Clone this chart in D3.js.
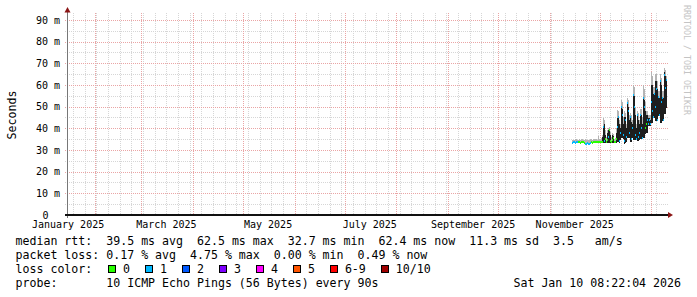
<!DOCTYPE html>
<html>
<head>
<meta charset="utf-8">
<script src="https://cdn.jsdelivr.net/npm/d3@7"></script>
<style>
  body { margin: 0; background: #fff; }
  svg { display: block; }
  text { font-family: "DejaVu Sans Mono", monospace; fill: #000; }
</style>
</head>
<body>
<svg id="graph" width="697" height="297"></svg>
<script>
// ---- data (one sample per rrd row, 0.6 day steps from Nov 14 2025) ----
var graphStart = new Date(2025, 0, 15, 8, 22, 4);
var graphEnd = new Date(2026, 0, 10, 8, 22, 4);
var firstSample = new Date(2025, 10, 14, 8, 22, 4);
var stepSeconds = 51840;

var median = [
  33.4, 33.5, 33.6, 33.4, 33.5, 33.5, 33.5, 33.6, 33.4, 33.5,
  33.7, 33.5, 33.4, 32.9, 32.8, 33.0, 32.6, 32.9, 33.2, 33.5,
  33.4, 33.6, 33.5, 33.5, 33.7, 33.5, 33.5, 33.5, 33.6, 33.5,
  33.5, 40.7, 34.0, 35.0, 33.5, 34.5, 36.0, 39.0, 34.0, 33.8,
  34.5, 35.5, 33.5, 33.7, 35.0, 40.7, 45.0, 34.0, 38.0, 50.0,
  46.0, 37.0, 34.0, 44.0, 36.0, 51.5, 48.0, 38.0, 45.0, 35.0,
  40.0, 55.4, 50.0, 37.0, 35.0, 46.0, 36.0, 38.0, 46.0, 40.0,
  35.5, 53.8, 50.0, 40.0, 42.0, 44.0, 42.0, 44.0, 42.0, 52.0,
  48.0, 45.4, 56.0, 50.0, 58.0, 43.8, 54.6, 46.0, 62.0, 52.0,
  54.0, 43.8, 64.6, 58.6, 62.4
];
var coreLow = [
  33.4, 33.5, 33.6, 33.4, 33.5, 33.5, 33.5, 33.6, 33.4, 33.5,
  33.7, 33.5, 33.4, 32.9, 32.8, 33.0, 32.6, 32.9, 33.2, 33.5,
  33.4, 33.6, 33.5, 33.5, 33.7, 33.5, 33.5, 33.5, 33.6, 33.5,
  33.5, 33.5, 33.5, 33.5, 33.5, 33.5, 33.5, 33.5, 33.5, 33.8,
  33.5, 33.5, 33.5, 33.7, 33.5, 34.0, 34.0, 33.8, 35.0, 36.0,
  36.0, 35.5, 33.0, 33.5, 34.0, 36.0, 36.0, 36.0, 34.0, 34.0,
  36.0, 35.0, 35.0, 35.0, 35.0, 34.5, 34.5, 35.0, 35.5, 35.5,
  35.5, 36.0, 36.0, 38.0, 38.4, 38.4, 41.5, 41.5, 41.5, 43.0,
  43.0, 45.4, 45.4, 43.8, 43.8, 43.8, 46.0, 46.0, 43.0, 43.0,
  43.8, 43.8, 47.0, 47.0, 50.0
];
var coreHigh = [
  33.4, 33.5, 33.6, 33.4, 33.5, 33.5, 33.5, 33.6, 33.4, 33.5,
  33.7, 33.5, 33.4, 32.9, 32.8, 33.0, 32.6, 32.9, 33.2, 33.5,
  33.4, 33.6, 33.5, 33.5, 33.7, 33.5, 33.5, 33.5, 33.6, 33.5,
  36.0, 40.7, 42.0, 37.0, 33.5, 37.8, 39.0, 39.2, 37.0, 33.8,
  36.9, 36.5, 33.5, 33.7, 38.0, 44.7, 45.4, 42.0, 40.0, 50.0,
  49.0, 42.0, 45.4, 45.0, 40.0, 51.5, 50.0, 44.0, 45.0, 43.0,
  42.0, 55.4, 55.0, 46.0, 40.0, 46.0, 44.0, 42.0, 46.0, 46.0,
  42.0, 53.8, 53.0, 48.0, 46.0, 46.0, 44.7, 44.7, 44.0, 60.0,
  60.0, 56.0, 56.0, 62.0, 62.0, 58.0, 54.6, 54.0, 62.3, 60.0,
  54.0, 54.0, 66.0, 64.0, 62.4
];
var smokeHigh = [
  34.6, 34.8, 34.5, 34.9, 35.0, 34.6, 34.8, 35.2, 34.7, 34.9,
  35.1, 34.8, 34.6, 34.9, 34.5, 34.8, 34.4, 34.7, 35.0, 35.2,
  34.8, 35.0, 34.9, 35.3, 35.1, 34.8, 36.5, 35.0, 35.0, 35.5,
  37.0, 44.7, 44.0, 39.0, 36.0, 39.0, 40.0, 40.5, 38.5, 36.0,
  38.0, 37.5, 35.0, 35.5, 40.0, 48.5, 48.0, 44.0, 42.0, 53.0,
  52.0, 45.0, 48.0, 47.0, 42.0, 53.8, 53.0, 46.0, 47.0, 46.0,
  44.0, 60.0, 59.0, 50.0, 42.0, 48.0, 47.0, 44.0, 49.0, 49.0,
  45.0, 60.0, 58.0, 52.0, 48.0, 48.0, 46.0, 46.0, 46.0, 66.0,
  64.0, 59.0, 59.0, 65.0, 65.0, 62.0, 57.0, 57.0, 65.0, 63.0,
  57.0, 57.0, 68.0, 67.0, 64.0
];
// index into lossLabels / lossColors
var lossLevel = [
  1, 1, 1, 1, 1, 1, 0, 0, 0, 0,
  0, 0, 0, 1, 1, 1, 1, 1, 1, 0,
  0, 0, 0, 0, 0, 0, 0, 0, 0, 0,
  0, 1, 1, 0, 0, 0, 1, 0, 0, 0,
  0, 0, 0, 0, 0, 1, 1, 1, 1, 1,
  1, 1, 1, 1, 1, 1, 1, 1, 1, 1,
  1, 1, 1, 1, 1, 1, 1, 1, 1, 1,
  1, 1, 1, 0, 0, 1, 1, 1, 1, 1,
  1, 1, 1, 1, 1, 1, 1, 1, 1, 1,
  1, 1, 1, 1, 1
];

var lossLabels = ["0", "1", "2", "3", "4", "5", "6-9", "10/10"];
var lossColors = ["#26ff00", "#00b8ff", "#0059ff", "#7e00ff", "#ff00ff", "#ff5500", "#ff0000", "#a00000"];
var yTicks = [10, 20, 30, 40, 50, 60, 70, 80, 90];
var yMinor = [5, 15, 25, 35, 45, 55, 65, 75, 85];
var yMax = 92.3;

var legendLines = [
  "median rtt:  39.5 ms avg  62.5 ms max  32.7 ms min  62.4 ms now  11.3 ms sd  3.5   am/s",
  "packet loss: 0.17 % avg  4.75 % max  0.00 % min  0.49 % now"
];
var probeText = "probe:       10 ICMP Echo Pings (56 Bytes) every 90s";
var stampText = "Sat Jan 10 08:22:04 2026";

// ---- layout ----
var margin = { left: 67, top: 15 },
  plotW = 600,
  plotH = 200;
var charW = 6.98;
var x0 = margin.left, y0 = margin.top;

var svg = d3.select("#graph");

var x = d3.scaleTime().domain([graphStart, graphEnd]).range([x0, x0 + plotW]);
var y = d3.scaleLinear().domain([0, yMax]).range([y0 + plotH, y0]);

function px(v) { return Math.round(v) + 0.5; }

var grid = svg.append("g").attr("shape-rendering", "crispEdges");

// minor grid: weeks / 5 ms
grid.selectAll(".vminor")
  .data(d3.timeSunday.range(graphStart, graphEnd))
  .enter().append("line")
  .attr("x1", d => px(x(d))).attr("x2", d => px(x(d)))
  .attr("y1", y0 - 2).attr("y2", y0 + plotH)
  .attr("stroke", "#d6d6d6").attr("stroke-dasharray", "1,1");

grid.selectAll(".hminor")
  .data(yMinor)
  .enter().append("line")
  .attr("x1", x0 - 2).attr("x2", x0 + plotW + 2)
  .attr("y1", d => px(y(d))).attr("y2", d => px(y(d)))
  .attr("stroke", "#d6d6d6").attr("stroke-dasharray", "1,1");

// major grid: months / 10 ms
grid.selectAll(".vmajor")
  .data(d3.timeMonth.range(graphStart, graphEnd))
  .enter().append("line")
  .attr("x1", d => px(x(d))).attr("x2", d => px(x(d)))
  .attr("y1", y0 - 2).attr("y2", y0 + plotH + 2)
  .attr("stroke", "#eaa5a5").attr("stroke-dasharray", "1,1");

grid.selectAll(".hmajor")
  .data(yTicks)
  .enter().append("line")
  .attr("x1", x0 - 2).attr("x2", x0 + plotW + 2)
  .attr("y1", d => px(y(d))).attr("y2", d => px(y(d)))
  .attr("stroke", "#eaa5a5").attr("stroke-dasharray", "1,1");

// ---- smoke + median ----
var rows = median.map(function (m, i) {
  var t0 = new Date(firstSample.getTime() + i * stepSeconds * 1000);
  var t1 = new Date(t0.getTime() + stepSeconds * 1000);
  return { t0: t0, t1: t1, med: m, lo: coreLow[i], hi: coreHigh[i], smoke: smokeHigh[i], loss: lossLevel[i] };
});

var plot = svg.append("g").attr("shape-rendering", "crispEdges");

plot.selectAll(".smoke")
  .data(rows)
  .enter().append("rect")
  .attr("x", d => Math.round(x(d.t0)))
  .attr("width", d => Math.max(1, Math.round(x(d.t1)) - Math.round(x(d.t0))))
  .attr("y", d => Math.round(y(d.smoke)))
  .attr("height", d => Math.max(0, Math.round(y(d.hi)) - Math.round(y(d.smoke))))
  .attr("fill", "#b4b4b4");

plot.selectAll(".core")
  .data(rows.filter(d => d.hi > d.lo))
  .enter().append("rect")
  .attr("x", d => Math.round(x(d.t0)))
  .attr("width", d => Math.max(1, Math.round(x(d.t1)) - Math.round(x(d.t0))))
  .attr("y", d => Math.round(y(d.hi)))
  .attr("height", d => Math.round(y(d.lo)) - Math.round(y(d.hi)) + 1)
  .attr("fill", "#1e1e1e");

plot.selectAll(".median")
  .data(rows)
  .enter().append("rect")
  .attr("x", d => Math.round(x(d.t0)))
  .attr("width", d => Math.max(1, Math.round(x(d.t1)) - Math.round(x(d.t0))))
  .attr("y", d => Math.round(y(d.med)) - 1)
  .attr("height", 2)
  .attr("fill", d => lossColors[d.loss]);

// ---- axes ----
var axes = svg.append("g").attr("shape-rendering", "crispEdges");
axes.append("line")
  .attr("x1", x0 + 0.5).attr("x2", x0 + 0.5)
  .attr("y1", y0 - 4).attr("y2", y0 + plotH + 3)
  .attr("stroke", "#777");
axes.append("rect")
  .attr("x", x0 - 2).attr("y", y0 + plotH - 1)
  .attr("width", plotW + 3).attr("height", 2)
  .attr("fill", "#111");

svg.append("path")
  .attr("d", "M" + (x0 + 0.5) + "," + (y0 - 8) + "L" + (x0 - 2.5) + "," + (y0 - 2.5) + "L" + (x0 + 3.5) + "," + (y0 - 2.5) + "Z")
  .attr("fill", "#8b1515");
svg.append("path")
  .attr("d", "M" + (x0 + plotW + 6) + "," + (y0 + plotH) + "L" + (x0 + plotW + 1) + "," + (y0 + plotH - 3) + "L" + (x0 + plotW + 1) + "," + (y0 + plotH + 3) + "Z")
  .attr("fill", "#8b1515");

// y tick labels
svg.selectAll(".ylab")
  .data(yTicks)
  .enter().append("text")
  .attr("x", 60).attr("y", d => y(d) + 3.7)
  .attr("text-anchor", "end")
  .style("font-size", "10px")
  .text(d => d + " m");
svg.append("text")
  .attr("x", 48.5).attr("y", y(0) + 3.7)
  .attr("text-anchor", "end")
  .style("font-size", "10px")
  .text("0");

// x labels, centered half a month after the month start
var fmt = d3.timeFormat("%B %Y");
svg.selectAll(".xlab")
  .data(d3.timeMonth.every(2).range(new Date(2025, 0, 1), graphEnd)
    .filter(d => d3.timeDay.offset(d, 15) < graphEnd))
  .enter().append("text")
  .attr("x", d => x(d3.timeDay.offset(d, 15)))
  .attr("y", 228)
  .attr("text-anchor", "middle")
  .style("font-size", "10px")
  .text(d => fmt(d));

// axis title + watermark
svg.append("text")
  .attr("transform", "translate(16,115) rotate(-90)")
  .attr("text-anchor", "middle")
  .style("font-size", "11.6px")
  .text("Seconds");
svg.append("text")
  .attr("transform", "translate(684,5) rotate(90)")
  .style("font-size", "8.3px")
  .style("fill", "#c4c4c4")
  .text("RRDTOOL / TOBI OETIKER");

// ---- legend ----
var legend = svg.append("g").style("font-size", "11.6px");
legend.selectAll(".line")
  .data(legendLines)
  .enter().append("text")
  .attr("x", 15.5).attr("y", (d, i) => 245 + i * 14)
  .style("white-space", "pre")
  .text(d => d);

legend.append("text").attr("x", 15.5).attr("y", 273).text("loss color:");
var bx = 108;
lossLabels.forEach(function (lab, i) {
  legend.append("rect")
    .attr("x", bx + 0.5).attr("y", 265.5)
    .attr("width", 7).attr("height", 7)
    .attr("fill", lossColors[i]).attr("stroke", "#000")
    .attr("shape-rendering", "crispEdges");
  legend.append("text").attr("x", bx + 15).attr("y", 273).text(lab);
  bx = bx + 15 + lab.length * charW + 15;
});

legend.append("text")
  .attr("x", 15.5).attr("y", 287)
  .style("white-space", "pre")
  .text(probeText);
legend.append("text")
  .attr("x", 681).attr("y", 287)
  .attr("text-anchor", "end")
  .text(stampText);
</script>
</body>
</html>
